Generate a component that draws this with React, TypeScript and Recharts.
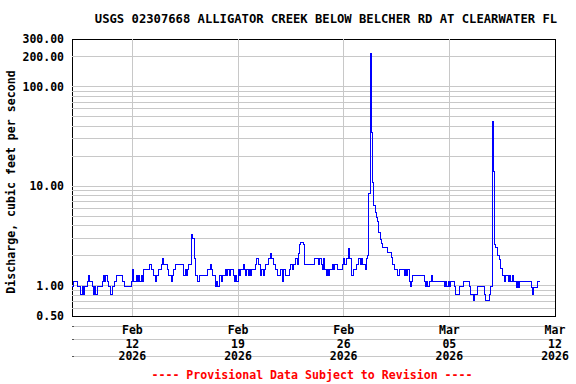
import React from "react";
import {
  LineChart,
  Line,
  XAxis,
  YAxis,
  ReferenceLine,
  ReferenceArea,
} from "recharts";

const TITLE = "USGS 02307668 ALLIGATOR CREEK BELOW BELCHER RD AT CLEARWATER FL";
const Y_LABEL = "Discharge, cubic feet per second";
const FOOTER = "---- Provisional Data Subject to Revision ----";

// first reading and the axis end (UTC)
const START = Date.UTC(2026, 1, 8);
const END = Date.UTC(2026, 2, 12);
const STEP_HOURS = 2;

// discharge, cfs, one row per day (every 2 hours) from Feb 08
const flowByDay: number[][] = [
  [0.98, 1.1, 1.1, 1.1, 0.98, 0.98, 0.98, 0.83, 0.98, 0.83, 0.98, 0.98],
  [1.1, 1.26, 1.1, 1.1, 0.98, 0.83, 0.98, 0.83, 0.98, 0.98, 0.98, 0.98],
  [1.1, 1.26, 1.1, 1.26, 1.1, 0.98, 0.98, 0.83, 0.98, 0.98, 1.1, 1.26],
  [1.26, 1.26, 1.26, 1.26, 1.1, 1.1, 0.98, 0.98, 0.98, 0.98, 0.98, 1.1],
  [1.45, 1.1, 1.1, 1.26, 1.1, 1.26, 1.1, 1.26, 1.1, 1.45, 1.45, 1.45],
  [1.45, 1.45, 1.65, 1.45, 1.45, 1.26, 1.1, 1.26, 1.26, 1.45, 1.45, 1.65],
  [1.9, 1.65, 1.65, 1.65, 1.45, 1.26, 1.26, 1.1, 1.26, 1.45, 1.65, 1.65],
  [1.65, 1.65, 1.65, 1.65, 1.65, 1.26, 1.45, 1.26, 1.45, 1.65, 1.65, 3.3],
  [3.0, 1.9, 1.26, 1.26, 1.1, 1.26, 1.26, 1.26, 1.26, 1.26, 1.26, 1.26],
  [1.45, 1.45, 1.65, 1.45, 1.26, 1.26, 0.98, 1.1, 0.98, 1.26, 1.26, 1.1],
  [1.26, 1.26, 1.45, 1.26, 1.45, 1.26, 1.45, 1.45, 1.26, 1.1, 1.26, 1.1],
  [1.45, 1.26, 1.45, 1.45, 1.65, 1.45, 1.26, 1.45, 1.26, 1.45, 1.26, 1.45],
  [1.45, 1.45, 1.65, 1.9, 1.65, 1.65, 1.26, 1.45, 1.26, 1.45, 1.65, 1.65],
  [1.9, 1.9, 2.1, 1.9, 1.65, 1.65, 1.45, 1.26, 1.26, 1.26, 1.45, 1.1],
  [1.45, 1.45, 1.26, 1.26, 1.26, 1.45, 1.65, 1.45, 1.65, 1.65, 1.9, 1.65],
  [2.1, 2.6, 2.7, 2.7, 2.6, 1.65, 1.65, 1.65, 1.65, 1.65, 1.65, 1.65],
  [1.65, 1.9, 1.9, 1.9, 1.65, 1.9, 1.65, 1.45, 1.9, 1.45, 1.26, 1.45],
  [1.26, 1.45, 1.45, 1.65, 1.45, 1.65, 1.65, 1.45, 1.45, 1.45, 1.45, 1.65],
  [1.9, 1.65, 1.9, 1.9, 2.4, 1.9, 1.26, 1.26, 1.45, 1.45, 1.65, 1.65],
  [1.9, 1.65, 1.9, 1.65, 1.65, 1.45, 1.9, 2.0, 8.5, 216, 35, 11],
  [6.35, 5.4, 4.85, 4.4, 3.4, 2.94, 2.68, 2.42, 2.42, 2.42, 2.42, 2.16],
  [2.16, 2.16, 1.93, 1.65, 1.47, 1.47, 1.47, 1.26, 1.47, 1.47, 1.47, 1.47],
  [1.26, 1.47, 1.26, 1.47, 1.1, 0.98, 1.1, 1.26, 1.26, 1.26, 1.26, 1.26],
  [1.26, 1.26, 1.26, 1.26, 1.1, 0.98, 1.1, 0.98, 1.1, 1.1, 1.26, 1.1],
  [1.1, 1.1, 1.1, 1.1, 1.1, 1.1, 1.1, 1.1, 0.98, 1.1, 0.98, 1.1],
  [0.98, 1.1, 1.1, 1.1, 0.98, 0.83, 0.83, 0.83, 0.98, 0.98, 0.98, 1.1],
  [1.1, 1.1, 1.1, 1.1, 0.98, 0.83, 0.83, 0.72, 0.83, 0.83, 0.98, 0.98],
  [0.98, 0.98, 0.98, 0.98, 0.83, 0.72, 0.72, 0.72, 0.83, 0.98, 45, 14],
  [2.6, 2.45, 2.0, 2.0, 1.85, 1.5, 1.26, 1.26, 1.1, 1.26, 1.26, 1.1],
  [1.26, 1.1, 1.26, 1.1, 1.1, 0.97, 1.1, 0.97, 1.1, 1.1, 1.1, 1.1],
  [1.1, 1.1, 1.1, 1.1, 1.1, 0.97, 0.83, 0.97, 0.97, 0.97, 1.1, 1.1],
  [1.1],
];

const yTicks = [0.5, 1, 10, 100, 200, 300];
const yGrid = [0.6, 0.7, 0.8, 0.9, 1, 2, 3, 4, 5, 6, 7, 8, 9, 10, 20, 30, 40, 50, 60, 70, 80, 90, 100, 200];
const xTickDates = ["2026-02-12", "2026-02-19", "2026-02-26", "2026-03-05", "2026-03-12"];
const monthNames = ["Jan", "Feb", "Mar", "Apr"];

const xTicks = xTickDates.map((d) => Date.parse(d));

const data = flowByDay.flatMap((day, d) =>
  day.map((flow, s) => ({
    t: START + (d * 24 + s * STEP_HOURS) * 3600 * 1000,
    flow,
  }))
);

const FONT = "'DejaVu Sans Mono', monospace";
const GRID = "#c8c8c8";

const YTick = (props: any) => {
  const { x, y, payload } = props;
  return (
    <text x={x} y={y} dy={4} textAnchor="end" fontFamily={FONT} fontWeight="bold" fontSize={11.5} fill="#000">
      {Number(payload.value).toFixed(2)}
    </text>
  );
};

const XTick = (props: any) => {
  const { x, y, payload } = props;
  const d = new Date(payload.value);
  const day = String(d.getUTCDate()).padStart(2, "0");
  const common = { x, textAnchor: "middle", fontFamily: FONT, fontWeight: "bold", fontSize: 11.5, fill: "#000" } as any;
  return (
    <g>
      <text {...common} y={y + 10}>{monthNames[d.getUTCMonth()]}</text>
      <text {...common} y={y + 23.5}>{day}</text>
      <text {...common} y={y + 36}>{d.getUTCFullYear()}</text>
    </g>
  );
};

export default function App() {
  return (
    <div style={{ position: "absolute", left: 0, top: 0, width: 576, height: 384, background: "#fff" }}>
      <svg width={576} height={384} style={{ position: "absolute", left: 0, top: 0 }}>
        <text x={326} y={23} textAnchor="middle" fontFamily={FONT} fontWeight="bold" fontSize={12.2}>
          {TITLE}
        </text>
        <text
          x={15}
          y={182}
          textAnchor="middle"
          transform="rotate(-90 15 182)"
          fontFamily={FONT}
          fontWeight="bold"
          fontSize={11.6}
        >
          {Y_LABEL}
        </text>
        {[326, 339, 356].map((ly) => (
          <g key={ly} shapeRendering="crispEdges">
            <line x1={72} x2={562} y1={ly + 0.5} y2={ly + 0.5} stroke={GRID} />
            <line x1={72} x2={74} y1={ly + 0.5} y2={ly + 0.5} stroke="#555" />
          </g>
        ))}
        <text x={312} y={379} textAnchor="middle" fontFamily={FONT} fontWeight="bold" fontSize={11.6} fill="#ff0000">
          {FOOTER}
        </text>
      </svg>
      <div style={{ position: "absolute", left: 0, top: 0 }}>
        <LineChart width={576} height={384} data={data} margin={{ top: 39, right: 21, bottom: 0, left: 0 }}>
          <XAxis
            dataKey="t"
            type="number"
            scale="time"
            domain={[START, END]}
            ticks={xTicks}
            tick={<XTick />}
            axisLine={false}
            tickLine={false}
            height={68}
            interval={0}
          />
          <YAxis
            type="number"
            scale="log"
            domain={[0.5, 300]}
            allowDataOverflow
            ticks={yTicks}
            tick={<YTick />}
            axisLine={false}
            tickLine={false}
            width={72}
            interval={0}
          />
          {yGrid.map((v) => (
            <ReferenceLine key={"y" + v} y={v} stroke={GRID} strokeWidth={1} shapeRendering="crispEdges" />
          ))}
          {xTicks.slice(0, -1).map((t) => (
            <ReferenceLine key={"x" + t} x={t} stroke={GRID} strokeWidth={1} shapeRendering="crispEdges" />
          ))}
          <Line
            type="stepAfter"
            dataKey="flow"
            stroke="#0000ff"
            strokeWidth={1}
            dot={false}
            isAnimationActive={false}
            shapeRendering="crispEdges"
          />
          <ReferenceArea
            x1={START}
            x2={END}
            y1={0.5}
            y2={300}
            fill="none"
            fillOpacity={0}
            stroke="#000"
            strokeWidth={1}
            shapeRendering="crispEdges"
          />
        </LineChart>
      </div>
    </div>
  );
}
